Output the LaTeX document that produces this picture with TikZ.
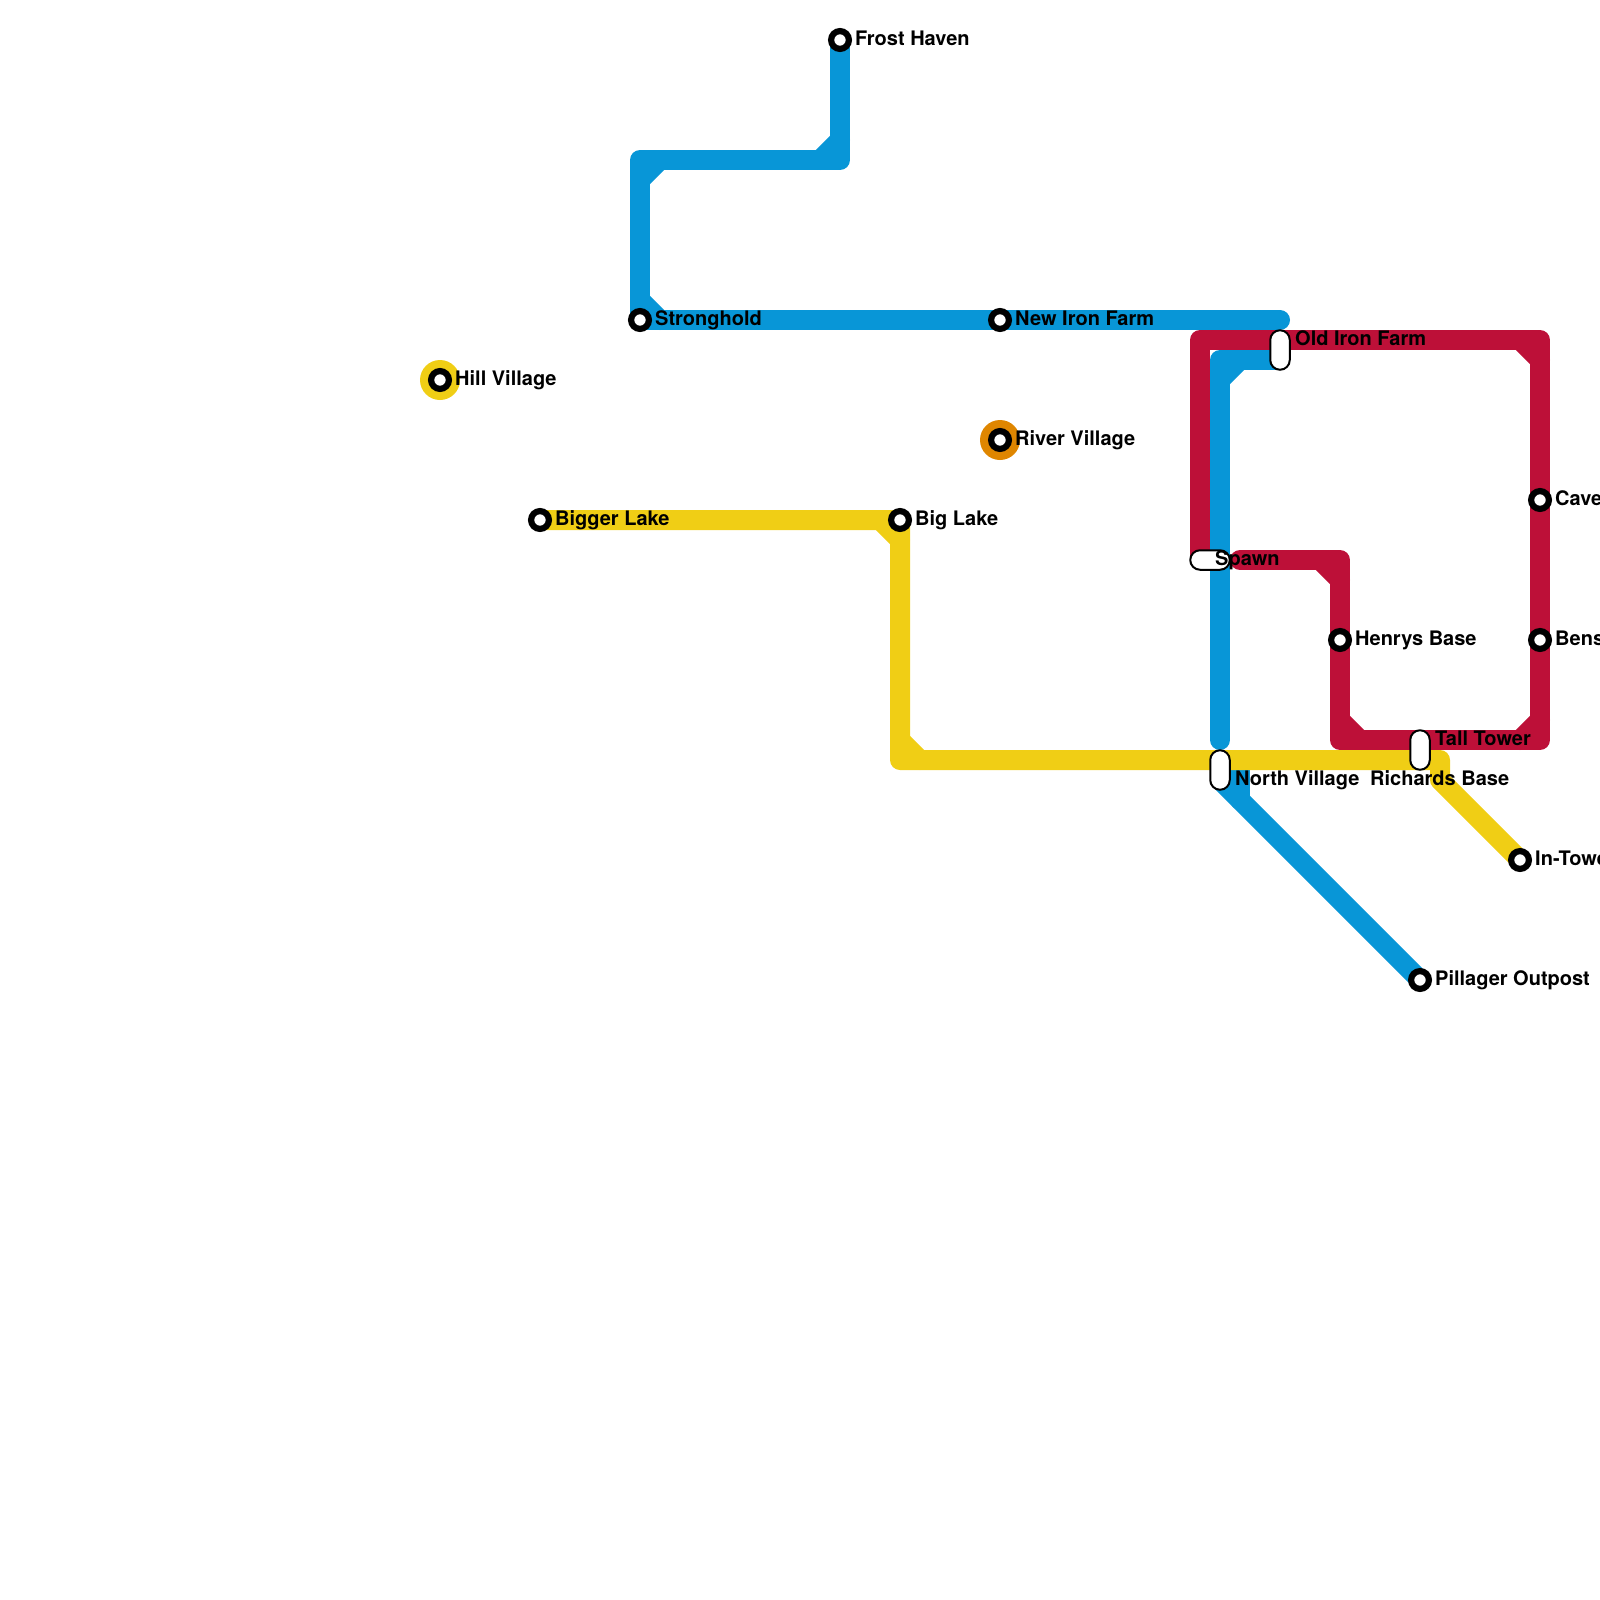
\documentclass[tikz,border=0pt]{standalone}
\usepackage{fontspec}
\setmainfont{TeX Gyre Heros}
\definecolor{lineblue}{HTML}{0896D7}
\definecolor{lineyellow}{HTML}{F0CE15}
\definecolor{linered}{HTML}{BD1038}
\definecolor{lineorange}{HTML}{DF8600}
\tikzset{
  metro/.style={line width=20pt,line cap=round,line join=round},
  stn/.style={circle,draw=black,fill=white,line width=6.2pt,minimum size=17.8pt,inner sep=0pt,outer sep=0pt},
  halo/.style={circle,minimum size=40pt,inner sep=0pt,outer sep=0pt},
  pillv/.style={draw=black,fill=white,line width=2pt,rounded corners=9.7pt,minimum width=19.5pt,minimum height=39.5pt,inner sep=0pt,outer sep=0pt},
  pillh/.style={draw=black,fill=white,line width=2pt,rounded corners=9.7pt,minimum width=39.5pt,minimum height=19.5pt,inner sep=0pt,outer sep=0pt},
  lbl/.style={anchor=base west,inner sep=0pt,font=\fontsize{20pt}{24pt}\selectfont\bfseries},
}
\newcommand{\chamf}[3]{([shift={(#2,0)}]#1) -- ([shift={(0,#3)}]#1)}
\begin{document}
\begin{tikzpicture}[x=1pt,y=-1pt]
\useasboundingbox (0,0) rectangle (1600,1600);
\clip (0,0) rectangle (1600,1600);
% bends
\coordinate (b1) at (840,160);
\coordinate (b2) at (640,160);
\coordinate (b3) at (640,320);
\coordinate (blueend) at (1280,320);
\coordinate (b4) at (1220,360);
\coordinate (b5) at (1220,740);
\coordinate (b6) at (1240,800);
\coordinate (b7) at (1240,770);
\coordinate (r1) at (1200,340);
\coordinate (r2) at (1540,340);
\coordinate (r3) at (1540,740);
\coordinate (r4) at (1340,740);
\coordinate (r5) at (1340,560);
\coordinate (r6) at (1240,560);
\coordinate (y1) at (900,760);
\coordinate (y2) at (1440,760);
\coordinate (y3) at (1440,780);
% halos
\node[halo,fill=lineyellow] (hillhalo) at (440,380) {};
\node[halo,fill=lineorange] (riverhalo) at (1000,440) {};
% station positions
\coordinate (oldironc) at (1280,350);
\coordinate (spawnc) at (1210,560);
\coordinate (northc) at (1220,770);
\coordinate (tallc) at (1420,750);
% red line
\draw[metro,linered] (spawnc) -- (1200,560) -- (r1) -- (r2) -- (r3) -- (r4) -- (r5) -- (r6);
\draw[metro,linered] \chamf{r2}{-20}{20} \chamf{r3}{-20}{-20} \chamf{r4}{20}{-20} \chamf{r5}{-20}{20};
% line ends
\coordinate (frost) at (840,40);
\coordinate (strong) at (640,320);
\coordinate (pill) at (1420,980);
\coordinate (north2) at (1220,780);
\coordinate (old2) at (1280,360);
% blue lines
\draw[metro,lineblue] (frost) -- (b1) -- (b2) -- (b3) -- (blueend);
\draw[metro,lineblue] \chamf{b1}{-20}{-20} \chamf{b2}{20}{20} \chamf{b3}{20}{-20};
\draw[metro,lineblue] (old2) -- (b4) -- (b5);
\draw[metro,lineblue] \chamf{b4}{20}{20};
\draw[metro,lineblue] (north2) -- (pill);
\draw[metro,lineblue] (b7) -- (b6);
% yellow line
\coordinate (bigger) at (540,520);
\coordinate (big) at (900,520);
\coordinate (intower) at (1520,860);
\draw[metro,lineyellow] (bigger) -- (big) -- (y1) -- (y2) -- (y3) -- (intower);
\draw[metro,lineyellow] \chamf{big}{-20}{20} \chamf{y1}{20}{-20};
% interchanges
\node[pillv] (oldiron) at (oldironc) {};
\node[pillh] (spawn) at (spawnc) {};
\node[pillv] (northv) at (northc) {};
\node[pillv] (tall) at (tallc) {};
% stations
\node[stn] (sfrost) at (frost) {};
\node[stn] (sstrong) at (strong) {};
\node[stn] (snewiron) at (1000,320) {};
\node[stn] (shill) at (440,380) {};
\node[stn] (sriver) at (1000,440) {};
\node[stn] (sbigger) at (bigger) {};
\node[stn] (sbig) at (big) {};
\node[stn] (scave) at (1540,500) {};
\node[stn] (sbens) at (1540,640) {};
\node[stn] (shenry) at (1340,640) {};
\node[stn] (sintower) at (intower) {};
\node[stn] (spill) at (pill) {};
% labels
\node[lbl] (tfrost) at (855,46) {Frost Haven};
\node[lbl] (tstrong) at (655,325) {Stronghold};
\node[lbl] (tnewiron) at (1015,325) {New Iron Farm};
\node[lbl] (toldiron) at (1295,345) {Old Iron Farm};
\node[lbl] (thill) at (455,385) {Hill Village};
\node[lbl] (triver) at (1015,445) {River Village};
\node[lbl] (tbigger) at (555,525) {Bigger Lake};
\node[lbl] (tbig) at (915,525) {Big Lake};
\node[lbl] (tspawn) at (1215,565) {Spawn};
\node[lbl] (tcave) at (1555,505) {Cave};
\node[lbl] (tbens) at (1555,645) {Bens};
\node[lbl] (thenry) at (1355,645) {Henrys Base};
\node[lbl] (ttall) at (1435,745) {Tall Tower};
\node[lbl] (tnorth) at (1235,785) {North Village};
\node[lbl] (trich) at (1370,785) {Richards Base};
\node[lbl] (tin) at (1535,865) {In-Towe};
\node[lbl] (tpill) at (1435,985) {Pillager Outpost};
\end{tikzpicture}
\end{document}
